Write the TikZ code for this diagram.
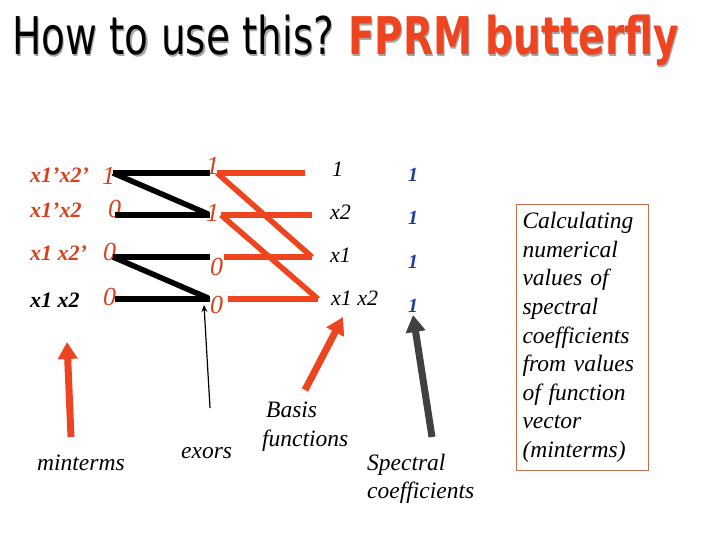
\documentclass[tikz,border=0pt]{standalone}
\usepackage{fontspec}
\setmainfont{Liberation Serif}
\newfontfamily\titlefont{DejaVu Sans}
\usetikzlibrary{arrows.meta}
\definecolor{lred}{HTML}{EE4420}
\definecolor{tred}{HTML}{D8401E}
\definecolor{cblue}{HTML}{1A3C9C}
\definecolor{agray}{HTML}{404040}
\definecolor{boxc}{HTML}{C8704C}
\newcommand{\shadowtext}[2]{\makebox[0pt][l]{\hspace{1.5pt}\raisebox{-1.5pt}{\color{black!35}#2}}{\color{#1}#2}}
\begin{document}
\begin{tikzpicture}[x=1pt,y=-1pt,
  lbl/.style={anchor=base west, inner sep=0, font=\fontsize{22}{26}\selectfont\bfseries\itshape, text=tred},
  num/.style={anchor=base west, inner sep=0, font=\fontsize{26}{30}\selectfont\itshape, text=tred},
  bas/.style={anchor=base west, inner sep=0, font=\fontsize{22}{26}\selectfont\itshape},
  coef/.style={anchor=base west, inner sep=0, font=\fontsize{20}{24}\selectfont\bfseries\itshape, text=cblue},
  capt/.style={anchor=base west, inner sep=0, font=\fontsize{23.5}{28}\selectfont\itshape},
  ttl/.style={anchor=base west, inner sep=0, xscale=0.75, font=\titlefont\fontsize{52}{60}\selectfont},
  blk/.style={line width=5.5pt, black},
  redl/.style={line width=5.5pt, lred},
  bigarrow/.style={line width=7pt, -{Triangle[width=19pt,length=17pt]}}]
\useasboundingbox (0,0) rectangle (720,540);
% title
\node[ttl] (t1) at (12,55) {\shadowtext{black}{How to use this?}};
\node[ttl, font=\titlefont\fontsize{52}{60}\selectfont\bfseries] (t2) at (348,55) {\shadowtext{lred}{FPRM butterfly}};
% left labels
\node[lbl] (m1) at (30,183) {x1’x2’};
\node[lbl] (m2) at (30,218) {x1’x2};
\node[lbl] (m3) at (30,260) {x1 x2’};
\node[lbl, text=black] (m4) at (30,307) {x1 x2};
% first column numbers
\node[num] (n1) at (102,185) {1};
\node[num] (n2) at (108,218) {0};
\node[num] (n3) at (103,260) {0};
\node[num] (n4) at (103,305) {0};
% second column numbers
\node[num] (e1) at (206,175) {1};
\node[num] (e2) at (206,222) {1};
\node[num] (e3) at (210,275) {0};
\node[num] (e4) at (210,313) {0};
% butterfly points
\coordinate (a1) at (113,173); \coordinate (a2) at (115,215);
\coordinate (a3) at (113,257); \coordinate (a4) at (115,299);
\coordinate (b1) at (210,173); \coordinate (b2) at (210,215);
\coordinate (b2d) at (208,214);
\coordinate (b3) at (210,257); \coordinate (b4) at (210,299);
\coordinate (b4d) at (208,298);
\coordinate (c1) at (217,173); \coordinate (c2) at (221,215);
\coordinate (c3) at (224,257); \coordinate (c4) at (228,299);
\coordinate (d1) at (305,173); \coordinate (d2) at (312,215);
\coordinate (d3) at (312,257); \coordinate (d4) at (318,299);
% black exor lines
\draw[blk] (a1) -- (b1);
\draw[blk] (a1) -- (b2d);
\draw[blk] (a2) -- (b2);
\draw[blk] (a3) -- (b3);
\draw[blk] (a3) -- (b4d);
\draw[blk] (a4) -- (b4);
% red lines
\draw[redl] (c1) -- (d1);
\draw[redl] (c1) -- (d3);
\draw[redl] (c2) -- (d2);
\draw[redl] (c2) -- (d4);
\draw[redl] (c3) -- (d3);
\draw[redl] (c4) -- (d4);
% basis functions
\node[bas] (f1) at (332,177) {1};
\node[bas] (f2) at (330,220) {x2};
\node[bas] (f3) at (330,262) {x1};
\node[bas] (f4) at (331,305) {x1 x2};
% coefficients
\node[coef] (s1) at (408,182) {1};
\node[coef] (s2) at (408,225) {1};
\node[coef] (s3) at (408,268) {1};
\node[coef] (s4) at (408,312) {1};
% captions
\node[capt] (cm) at (37,470) {minterms};
\node[capt] (ce) at (181,458) {exors};
\node[capt] (cb1) at (266,417) {Basis};
\node[capt] (cb2) at (262,446) {functions};
\node[capt] (cs1) at (367,470) {Spectral};
\node[capt] (cs2) at (367,498) {coefficients};
% arrow ends
\coordinate (pm0) at (71,437); \coordinate (pm1) at (67,342);
\coordinate (pe0) at (210,408); \coordinate (pe1) at (204,305);
\coordinate (pb0) at (305,390); \coordinate (pb1) at (343,317);
\coordinate (ps0) at (432,437); \coordinate (ps1) at (413,315);
\draw[bigarrow, lred] (pm0) -- (pm1);
\draw[line width=1.2pt, -{Stealth[width=6pt,length=7pt]}] (pe0) -- (pe1);
\draw[bigarrow, lred] (pb0) -- (pb1);
\draw[bigarrow, agray] (ps0) -- (ps1);
% explanation box
\node[draw=boxc, line width=1pt, anchor=north west, minimum width=132pt, minimum height=266pt,
      text width=120pt, align=left, inner sep=6pt,
      font=\fontsize{23.5}{28.6}\selectfont\itshape] (box) at (516,204)
  {Calculating\\ numerical\\ values of\\ spectral\\ coefficients\\ from values\\ of function\\ vector\\ (minterms)};
\end{tikzpicture}
\end{document}
